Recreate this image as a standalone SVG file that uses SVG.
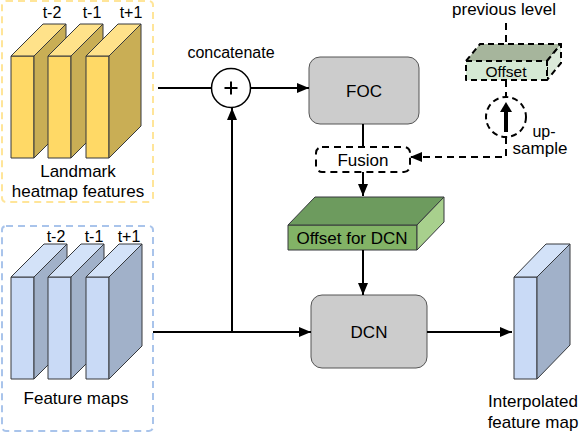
<svg xmlns="http://www.w3.org/2000/svg" width="581" height="443" viewBox="0 0 581 443">
<defs>
<style>
text{font-family:"Liberation Sans",Arial,sans-serif;fill:#000;text-anchor:middle}
.t16{font-size:16px}
.t17{font-size:17px}
.blk{stroke:#36393d;stroke-width:1;stroke-linejoin:round}
.yf{fill:#ffd966}.yt{fill:#ffe28a}.ys{fill:#c9ae55}
.bf{fill:#c9daf6}.bt{fill:#d3e2f8}.bs{fill:#a1b1c9}
.ln{fill:none;stroke:#000;stroke-width:2}
.dash{stroke-dasharray:7 5}
.proc{fill:#cccccc;stroke:#555;stroke-width:1}
</style>
<marker id="ah" viewBox="0 0 12 10" refX="12" refY="5" markerWidth="12" markerHeight="10" markerUnits="userSpaceOnUse" orient="auto">
<path d="M0,0L12,5L0,10Z" fill="#000"/>
</marker>
</defs>
<rect width="581" height="443" fill="#fff"/>

<g id="landmark">
<rect x="2" y="1" width="151" height="201" rx="4" fill="none" stroke="#ffe599" stroke-width="2" stroke-dasharray="7 5"/>
<g class="blk">
<rect class="yf" x="11" y="56" width="23" height="102"/>
<polygon class="yt" points="11,56 43,24 66,24 34,56"/>
<polygon class="ys" points="34,56 66,24 66,126 34,158"/>
<rect class="yf" x="48" y="56" width="23" height="102"/>
<polygon class="yt" points="48,56 80,24 103,24 71,56"/>
<polygon class="ys" points="71,56 103,24 103,126 71,158"/>
<rect class="yf" x="86" y="56" width="23" height="102"/>
<polygon class="yt" points="86,56 118,24 141,24 109,56"/>
<polygon class="ys" points="109,56 141,24 141,126 109,158"/>
</g>
<text class="t16" x="52" y="18">t-2</text>
<text class="t16" x="92" y="18">t-1</text>
<text class="t16" x="131" y="18">t+1</text>
<text class="t17" x="78" y="177">Landmark</text>
<text class="t17" x="78" y="197">heatmap features</text>
</g>

<g id="features">
<rect x="2" y="226" width="151" height="205" rx="4" fill="none" stroke="#a9c4eb" stroke-width="2" stroke-dasharray="7 5"/>
<g class="blk">
<rect class="bf" x="11" y="277" width="23" height="102"/>
<polygon class="bt" points="11,277 44,244 67,244 34,277"/>
<polygon class="bs" points="34,277 67,244 67,346 34,379"/>
<rect class="bf" x="48" y="277" width="23" height="102"/>
<polygon class="bt" points="48,277 81,244 104,244 71,277"/>
<polygon class="bs" points="71,277 104,244 104,346 71,379"/>
<rect class="bf" x="86" y="277" width="23" height="102"/>
<polygon class="bt" points="86,277 119,244 142,244 109,277"/>
<polygon class="bs" points="109,277 142,244 142,346 109,379"/>
</g>
<text class="t16" x="56" y="242">t-2</text>
<text class="t16" x="94" y="242">t-1</text>
<text class="t16" x="129" y="242">t+1</text>
<text class="t17" x="76" y="404">Feature maps</text>
</g>

<g id="concat">
<circle cx="231" cy="88" r="19.5" fill="#fff" stroke="#000" stroke-width="1.5"/>
<path d="M224.5,88H237.5M231,81.5V94.5" stroke="#000" stroke-width="2" fill="none"/>
<text class="t16" x="231" y="58">concatenate</text>
</g>

<g id="foc">
<rect class="proc" x="309" y="57" width="110" height="67" rx="11"/>
<text class="t17" x="364" y="97">FOC</text>
</g>

<g id="fusion">
<rect x="316" y="147" width="94" height="25" rx="6" fill="#fff" stroke="#000" stroke-width="2" stroke-dasharray="7 5"/>
<text class="t17" x="363" y="166">Fusion</text>
</g>

<g id="offsetdcn">
<g class="blk">
<rect x="288" y="225" width="129" height="25" fill="#82b366"/>
<polygon points="288,225 315,197 444,197 417,225" fill="#6d9b5e"/>
<polygon points="417,225 444,197 444,222 417,250" fill="#a8d08d"/>
</g>
<text class="t17" x="352" y="244">Offset for DCN</text>
</g>

<g id="dcn">
<rect class="proc" x="311" y="295" width="116" height="73" rx="11"/>
<text class="t17" x="369" y="338">DCN</text>
</g>

<g id="interp">
<g class="blk">
<rect class="bf" x="514" y="277" width="23" height="102"/>
<polygon class="bt" points="514,277 546,244 570,244 537,277"/>
<polygon class="bs" points="537,277 570,244 570,345 537,379"/>
</g>
<text class="t17" x="533" y="407">Interpolated</text>
<text class="t17" x="533" y="428">feature map</text>
</g>

<g id="prevoffset">
<text class="t17" x="504" y="15">previous level</text>
<g stroke="#000" stroke-width="2" stroke-dasharray="6 4" stroke-linejoin="round">
<polygon points="466,61 480,44 561,44 547,61" fill="#a6b59c"/>
<polygon points="547,61 561,44 561,63 547,80" fill="#dbe9d9"/>
<rect x="466" y="61" width="81" height="19" fill="#d5e8d4"/>
</g>
<text x="506" y="77" style="font-size:15.5px">Offset</text>
</g>

<g id="upsample">
<circle cx="506" cy="117" r="20" fill="#fff" stroke="#000" stroke-width="2" stroke-dasharray="6 4"/>
<path d="M506,132V111" stroke="#000" stroke-width="4" fill="none"/>
<path d="M500,112L506,102L512,112Z" fill="#000"/>
<text class="t16" x="544" y="137">up-</text>
<text class="t17" x="540" y="154">sample</text>
</g>

<g id="connectors">
<path class="ln" d="M158,88H211.5"/>
<path class="ln" d="M250.5,88H309" marker-end="url(#ah)"/>
<path class="ln" d="M153,332H311" marker-end="url(#ah)"/>
<path class="ln" d="M232,332V108" marker-end="url(#ah)"/>
<path class="ln" d="M363,124V147"/>
<path class="ln" d="M363,172V196" marker-end="url(#ah)"/>
<path class="ln" d="M363,250V295" marker-end="url(#ah)"/>
<path class="ln" d="M427,332H512" marker-end="url(#ah)"/>
<path class="ln dash" d="M506,23V44"/>
<path class="ln dash" d="M506,80V97"/>
<path class="ln dash" d="M506,137V157H410" marker-end="url(#ah)"/>
</g>
</svg>
